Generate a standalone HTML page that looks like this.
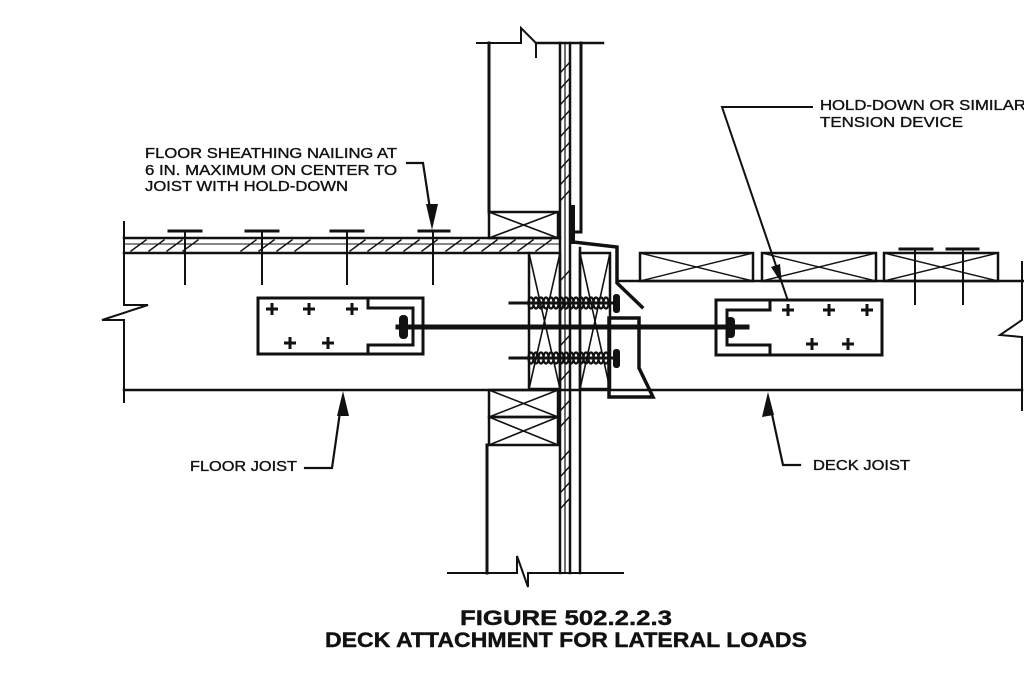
<!DOCTYPE html>
<html><head><meta charset="utf-8"><style>
html,body{margin:0;padding:0;background:#fff;}
svg{display:block;}
text{font-family:"Liberation Sans",Arial,sans-serif;fill:#111;}
</style></head><body>
<svg width="1024" height="682" viewBox="0 0 1024 682" xmlns="http://www.w3.org/2000/svg">
<g stroke="#111" fill="none" stroke-linecap="square">
<!-- top wall -->
<polyline points="477,43 521,43 521,28 536,43 536,57" stroke-width="2"/>
<line x1="536" y1="43" x2="603" y2="43" stroke-width="2.5"/>
<line x1="489" y1="43" x2="489" y2="212" stroke-width="3"/>
<!-- wall sheathing lines -->
<line x1="560" y1="43" x2="560" y2="573" stroke-width="2.5"/>
<line x1="565" y1="43" x2="565" y2="573" stroke-width="1.2"/>
<line x1="570" y1="43" x2="570" y2="573" stroke-width="2.5"/>
<polyline points="581,43 581,232 575,232" stroke-width="3"/>
<line x1="580" y1="248" x2="580" y2="573" stroke-width="2.5"/>
<!-- upper blocking -->
<rect x="489" y="212" width="69" height="26" stroke-width="2.5"/>
<line x1="489" y1="212" x2="558" y2="238" stroke-width="1.6"/>
<line x1="489" y1="238" x2="558" y2="212" stroke-width="1.6"/>
<!-- floor sheathing -->
<line x1="124" y1="238" x2="560" y2="238" stroke-width="2.5"/>
<line x1="124" y1="244" x2="560" y2="244" stroke-width="1"/>
<line x1="124" y1="253" x2="529" y2="253" stroke-width="2.5"/>
<!-- left end with break -->
<polyline points="124,222 124,305 148,305 102,320 124,320 124,402" stroke-width="2"/>
<!-- floor joist bottom / deck bottom -->
<line x1="124" y1="390" x2="1022" y2="390" stroke-width="2.5"/>
<!-- rim joist -->
<rect x="529" y="253" width="31" height="136" stroke-width="2.5"/>
<line x1="529" y1="253" x2="560" y2="389" stroke-width="1.6"/>
<line x1="560" y1="253" x2="529" y2="389" stroke-width="1.6"/>
<!-- ledger -->
<rect x="580" y="253" width="30" height="136" stroke-width="2.5"/>
<line x1="580" y1="253" x2="610" y2="389" stroke-width="1.6"/>
<line x1="610" y1="253" x2="580" y2="389" stroke-width="1.6"/>
<!-- lower blocking -->
<rect x="489" y="390" width="69" height="27" stroke-width="2.5"/>
<rect x="489" y="417" width="69" height="28" stroke-width="2.5"/>
<line x1="489" y1="390" x2="558" y2="417" stroke-width="1.6"/>
<line x1="489" y1="417" x2="558" y2="390" stroke-width="1.6"/>
<line x1="489" y1="417" x2="558" y2="445" stroke-width="1.6"/>
<line x1="489" y1="445" x2="558" y2="417" stroke-width="1.6"/>
<line x1="487" y1="445" x2="487" y2="573" stroke-width="3"/>
<!-- bottom break -->
<polyline points="448,573 517,573 517,556 528,587 528,573 623,573" stroke-width="2"/>
<!-- flashing -->
<line x1="573" y1="207" x2="573" y2="242" stroke-width="4"/>
<polyline points="573,242 617,247 617,283 642,307" stroke-width="3.5" stroke-linejoin="miter"/>
<!-- angle bracket -->
<polygon points="609,318 639,318 639,368 653,397 609,397" stroke-width="3.5"/>
<!-- deck joist top -->
<line x1="618" y1="281" x2="1024" y2="281" stroke-width="2.5"/>
<!-- right end break -->
<polyline points="1022,262 1022,320 1000,335 1022,337 1022,410" stroke-width="2"/>
<!-- decking boards -->
<rect x="640" y="253" width="113" height="28" stroke-width="2.5"/>
<line x1="640" y1="253" x2="753" y2="281" stroke-width="1.4"/>
<line x1="640" y1="281" x2="753" y2="253" stroke-width="1.4"/>
<rect x="762" y="253" width="114" height="28" stroke-width="2.5"/>
<line x1="762" y1="253" x2="876" y2="281" stroke-width="1.4"/>
<line x1="762" y1="281" x2="876" y2="253" stroke-width="1.4"/>
<rect x="884" y="253" width="114" height="28" stroke-width="2.5"/>
<line x1="884" y1="253" x2="998" y2="281" stroke-width="1.4"/>
<line x1="884" y1="281" x2="998" y2="253" stroke-width="1.4"/>
<!-- deck nails -->
<line x1="900" y1="249" x2="932" y2="249" stroke-width="3"/>
<line x1="915" y1="249" x2="915" y2="304" stroke-width="2"/>
<line x1="947" y1="249" x2="978" y2="249" stroke-width="3"/>
<line x1="963" y1="249" x2="963" y2="304" stroke-width="2"/>
<!-- floor nails -->
<line x1="169" y1="231" x2="201" y2="231" stroke-width="3"/>
<line x1="185" y1="231" x2="185" y2="284" stroke-width="2"/>
<line x1="246" y1="231" x2="278" y2="231" stroke-width="3"/>
<line x1="262" y1="231" x2="262" y2="284" stroke-width="2"/>
<line x1="331" y1="231" x2="363" y2="231" stroke-width="3"/>
<line x1="347" y1="231" x2="347" y2="284" stroke-width="2"/>
<line x1="419" y1="231" x2="449" y2="231" stroke-width="3"/>
<line x1="433" y1="231" x2="433" y2="284" stroke-width="2"/>
<!-- left hold-down -->
<polyline points="368,298 258,298 258,354 368,354" stroke-width="3"/>
<polyline points="368,298 423,298 423,354 368,354" stroke-width="3"/>
<polyline points="368,298 368,308 413,308 413,345 368,345 368,354" stroke-width="3"/>
<!-- right hold-down -->
<polyline points="770,300 882,300 882,355 770,355" stroke-width="3"/>
<polyline points="770,300 716,300 716,355 770,355" stroke-width="3"/>
<polyline points="770,300 770,310 727,310 727,345 770,345 770,355" stroke-width="3"/>
<!-- tension rod -->
<line x1="398" y1="327" x2="747" y2="327" stroke-width="5"/>
<!-- bolts -->
<line x1="510" y1="303" x2="617" y2="303" stroke-width="3"/>
<line x1="510" y1="358" x2="617" y2="358" stroke-width="3"/>
<!-- leaders -->
<polyline points="407,163 423,163 432,222" stroke-width="2.2"/>
<polyline points="305,468 332,468 341,405" stroke-width="2.2"/>
<polyline points="800,465 783,465 770,405" stroke-width="2.2"/>
<polyline points="812,107 722,107 787,298" stroke-width="2"/>
<!-- hatches -->
<g stroke-width="1.4">
<path d="M131,251 L146,240 M149,251 L164,240 M167,251 L182,240 M183,251 L198,240
M241,251 L256,240 M259,251 L274,240 M277,251 L292,240 M295,251 L310,240
M350,251 L365,240 M368,251 L383,240 M386,251 L401,240 M404,251 L419,240 M422,251 L437,240
M446,251 L461,240 M464,251 L479,240 M482,251 L497,240 M500,251 L515,240 M518,251 L533,240 M536,251 L551,240"/>
<path d="M561,72 L570,62 M561,88 L570,78 M561,104 L570,94 M561,120 L570,110 M561,136 L570,126 M561,152 L570,142 M561,168 L570,158 M561,184 L570,174 M561,200 L570,190
M561,280 L570,270 M561,310 L570,300 M561,345 L570,335 M561,380 L570,370
M561,410 L570,400 M561,426 L570,416 M561,460 L570,450 M561,476 L570,466 M561,492 L570,482 M561,508 L570,498"/>
</g>
</g>
<g fill="#111" stroke="none">
<!-- arrowheads -->
<polygon points="432,230 426,204 438,204"/>
<polygon points="343,391 337,416 349,416"/>
<polygon points="768,392 762,417 774,415"/>
<polygon points="782,284 771,267 780,264"/>
<!-- nuts -->
<rect x="399" y="315" width="9" height="24" rx="4"/>
<rect x="726" y="317" width="9" height="21" rx="4"/>
<rect x="613" y="294" width="7" height="19" rx="3"/>
<rect x="613" y="349" width="7" height="19" rx="3"/>
</g>
<!-- coils -->
<g fill="none" stroke="#111" stroke-width="2.2">
<g id="coil1">
<ellipse cx="531" cy="303" rx="2.6" ry="5.5"/><ellipse cx="536" cy="303" rx="2.6" ry="5.5"/><ellipse cx="541" cy="303" rx="2.6" ry="5.5"/><ellipse cx="546" cy="303" rx="2.6" ry="5.5"/><ellipse cx="551" cy="303" rx="2.6" ry="5.5"/><ellipse cx="556" cy="303" rx="2.6" ry="5.5"/><ellipse cx="561" cy="303" rx="2.6" ry="5.5"/><ellipse cx="566" cy="303" rx="2.6" ry="5.5"/><ellipse cx="571" cy="303" rx="2.6" ry="5.5"/><ellipse cx="576" cy="303" rx="2.6" ry="5.5"/><ellipse cx="581" cy="303" rx="2.6" ry="5.5"/><ellipse cx="586" cy="303" rx="2.6" ry="5.5"/><ellipse cx="591" cy="303" rx="2.6" ry="5.5"/><ellipse cx="596" cy="303" rx="2.6" ry="5.5"/><ellipse cx="601" cy="303" rx="2.6" ry="5.5"/><ellipse cx="606" cy="303" rx="2.6" ry="5.5"/>
</g>
<use href="#coil1" transform="translate(0,55)"/>
</g>
<g fill="#111" stroke="none">
<!-- crosses -->
<g id="cr">
<path d="M266,307.5 h12 v3 h-12z M270.5,303 h3 v12 h-3z"/>
</g>
<use href="#cr" transform="translate(37,0)"/>
<use href="#cr" transform="translate(80,0)"/>
<use href="#cr" transform="translate(18,34)"/>
<use href="#cr" transform="translate(56,34)"/>
<use href="#cr" transform="translate(516,1)"/>
<use href="#cr" transform="translate(557,1)"/>
<use href="#cr" transform="translate(595,1)"/>
<use href="#cr" transform="translate(540,35)"/>
<use href="#cr" transform="translate(576,35)"/>
</g>
<!-- labels -->
<g font-size="14.5" stroke="#111" stroke-width="0.35">
<text x="145" y="158" textLength="252" lengthAdjust="spacingAndGlyphs">FLOOR SHEATHING NAILING AT</text>
<text x="145" y="175" textLength="252" lengthAdjust="spacingAndGlyphs">6 IN. MAXIMUM ON CENTER TO</text>
<text x="145" y="191" textLength="203" lengthAdjust="spacingAndGlyphs">JOIST WITH HOLD-DOWN</text>
<text x="820" y="110" textLength="206" lengthAdjust="spacingAndGlyphs">HOLD-DOWN OR SIMILAR</text>
<text x="820" y="127" textLength="143" lengthAdjust="spacingAndGlyphs">TENSION DEVICE</text>
<text x="190" y="471" textLength="107" lengthAdjust="spacingAndGlyphs">FLOOR JOIST</text>
<text x="813" y="470" textLength="97" lengthAdjust="spacingAndGlyphs">DECK JOIST</text>
</g>
<g font-size="21" font-weight="bold" stroke="#111" stroke-width="0.4">
<text x="460" y="625" textLength="212" lengthAdjust="spacingAndGlyphs">FIGURE 502.2.2.3</text>
<text x="325" y="647" textLength="482" lengthAdjust="spacingAndGlyphs">DECK ATTACHMENT FOR LATERAL LOADS</text>
</g>
</svg>
</body></html>
